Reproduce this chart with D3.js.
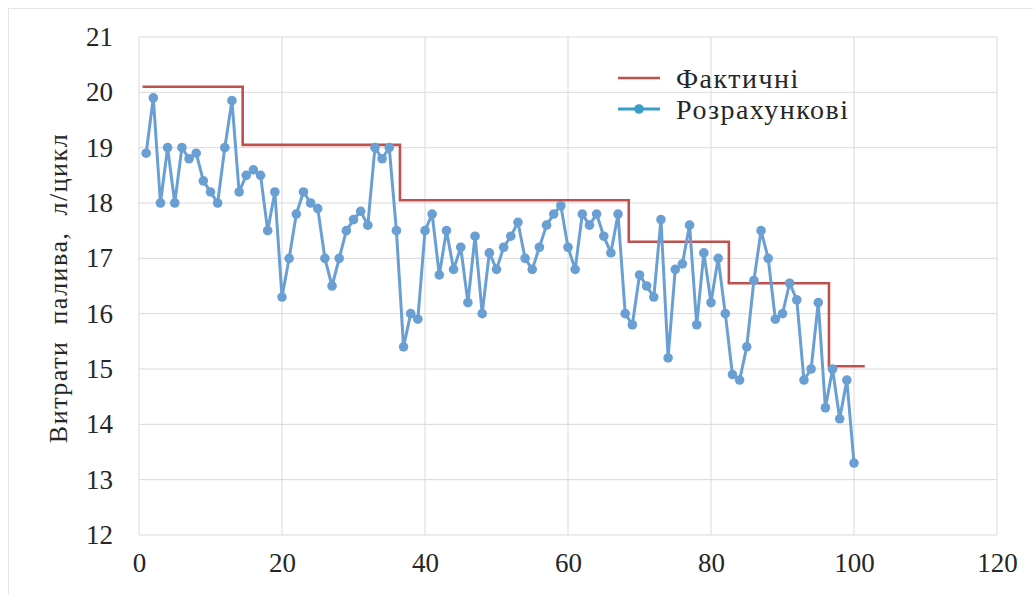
<!DOCTYPE html>
<html>
<head>
<meta charset="utf-8">
<script src="https://cdn.jsdelivr.net/npm/d3@7/dist/d3.min.js"></script>
<style>
  html, body { margin: 0; padding: 0; background: #fff; }
  svg { display: block; }
  text { font-family: "Liberation Serif", "Times New Roman", Tinos, "DejaVu Serif", serif; fill: #262626; }
</style>
</head>
<body>
<svg id="chart" width="1033" height="595"></svg>
<script>
// Calculated fuel consumption per cycle (points 1..100)
const cycleNo = d3.range(1, 101);
const calcValues = [
  18.9, 19.9, 18.0, 19.0, 18.0, 19.0, 18.8, 18.9, 18.4, 18.2,
  18.0, 19.0, 19.85, 18.2, 18.5, 18.6, 18.5, 17.5, 18.2, 16.3,
  17.0, 17.8, 18.2, 18.0, 17.9, 17.0, 16.5, 17.0, 17.5, 17.7,
  17.85, 17.6, 19.0, 18.8, 19.0, 17.5, 15.4, 16.0, 15.9, 17.5,
  17.8, 16.7, 17.5, 16.8, 17.2, 16.2, 17.4, 16.0, 17.1, 16.8,
  17.2, 17.4, 17.65, 17.0, 16.8, 17.2, 17.6, 17.8, 17.95, 17.2,
  16.8, 17.8, 17.6, 17.8, 17.4, 17.1, 17.8, 16.0, 15.8, 16.7,
  16.5, 16.3, 17.7, 15.2, 16.8, 16.9, 17.6, 15.8, 17.1, 16.2,
  17.0, 16.0, 14.9, 14.8, 15.4, 16.6, 17.5, 17.0, 15.9, 16.0,
  16.55, 16.25, 14.8, 15.0, 16.2, 14.3, 15.0, 14.1, 14.8, 13.3
];

// Actual consumption: constant levels between the edges below
const actualEdges = [0.5, 14.5, 36.5, 68.5, 82.5, 96.5, 101.5];
const actualLevels = [20.1, 19.05, 18.05, 17.3, 16.55, 15.05];

const xTicks = [0, 20, 40, 60, 80, 100, 120];
const yTicks = [12, 13, 14, 15, 16, 17, 18, 19, 20, 21];

const seriesNames = ["Фактичні", "Розрахункові"];
const axisTitle = "Витрати палива, л/цикл";

const colors = { actual: "#c0504d", calc: "#6a9fd4", calcLegend: "#3a9cc8", grid: "#d9d9d9" };
const serif = '"Liberation Serif", "Times New Roman", Tinos, "DejaVu Serif", serif';

const svg = d3.select("#chart");
const margin = { left: 139, right: 36, top: 37, bottom: 60 };
const W = 1033, H = 595;

const x = d3.scaleLinear().domain([0, 120]).range([margin.left, W - margin.right]);
const y = d3.scaleLinear().domain([12, 21]).range([H - margin.bottom, margin.top]);

// outer frame
svg.append("rect")
  .attr("x", 8.5).attr("y", 8.5)
  .attr("width", W).attr("height", H)
  .attr("fill", "none").attr("stroke", "#e4e4e4");

// grid
const grid = svg.append("g");
grid.selectAll("line.h").data(yTicks).join("line")
  .attr("x1", x(0)).attr("x2", x(120))
  .attr("y1", d => y(d)).attr("y2", d => y(d))
  .attr("stroke", colors.grid).attr("stroke-width", 1);
grid.selectAll("line.v").data(xTicks).join("line")
  .attr("x1", d => x(d)).attr("x2", d => x(d))
  .attr("y1", y(12)).attr("y2", y(21))
  .attr("stroke", colors.grid).attr("stroke-width", 1);

// axes (labels only, no domain lines)
const xAxis = svg.append("g")
  .attr("transform", `translate(0,${y(12)})`)
  .call(d3.axisBottom(x).tickValues(xTicks).tickSize(0).tickPadding(28));
const yAxis = svg.append("g")
  .attr("transform", `translate(${x(0)},0)`)
  .call(d3.axisLeft(y).tickValues(yTicks).tickSize(0).tickPadding(26));
[xAxis, yAxis].forEach(a => {
  a.attr("font-family", serif);
  a.select(".domain").remove();
  a.selectAll("text")
    .style("font-family", serif)
    .style("font-size", "27px")
    .attr("fill", "#262626");
});
xAxis.selectAll("text").attr("dy", "0.35em");

// y axis title
svg.append("text")
  .attr("transform", `translate(58,${(y(12) + y(21)) / 2 + 2}) rotate(-90)`)
  .attr("text-anchor", "middle")
  .attr("dominant-baseline", "central")
  .style("font-family", serif)
  .style("font-size", "26px")
  .style("letter-spacing", "1.5px")
  .style("word-spacing", "8px")
  .text(axisTitle);

// actual (step) line
const stepPts = [];
actualLevels.forEach((v, i) => {
  stepPts.push([actualEdges[i], v]);
  stepPts.push([actualEdges[i + 1], v]);
});
svg.append("path")
  .datum(stepPts)
  .attr("fill", "none")
  .attr("stroke", colors.actual)
  .attr("stroke-width", 2.6)
  .attr("d", d3.line().x(d => x(d[0])).y(d => y(d[1])));

// calculated line with markers
const calc = cycleNo.map((c, i) => ({ c, v: calcValues[i] }));
svg.append("path")
  .datum(calc)
  .attr("fill", "none")
  .attr("stroke", colors.calc)
  .attr("stroke-width", 3)
  .attr("stroke-linejoin", "round")
  .attr("d", d3.line().x(d => x(d.c)).y(d => y(d.v)));
svg.append("g").selectAll("circle").data(calc).join("circle")
  .attr("cx", d => x(d.c)).attr("cy", d => y(d.v))
  .attr("r", 4.8)
  .attr("fill", colors.calc);

// legend
const lg = svg.append("g").attr("transform", "translate(618,78)");
lg.append("line").attr("x1", 0).attr("x2", 42).attr("y1", 0).attr("y2", 0)
  .attr("stroke", colors.actual).attr("stroke-width", 2.6);
lg.append("text").attr("x", 58).attr("y", 0).attr("dominant-baseline", "central")
  .style("font-family", serif).style("font-size", "28px").style("letter-spacing", "1.5px")
  .text(seriesNames[0]);
lg.append("line").attr("x1", 0).attr("x2", 42).attr("y1", 31).attr("y2", 31)
  .attr("stroke", colors.calcLegend).attr("stroke-width", 3);
lg.append("circle").attr("cx", 21).attr("cy", 31).attr("r", 4.8).attr("fill", colors.calcLegend);
lg.append("text").attr("x", 58).attr("y", 31).attr("dominant-baseline", "central")
  .style("font-family", serif).style("font-size", "28px").style("letter-spacing", "1.5px")
  .text(seriesNames[1]);
</script>
</body>
</html>
